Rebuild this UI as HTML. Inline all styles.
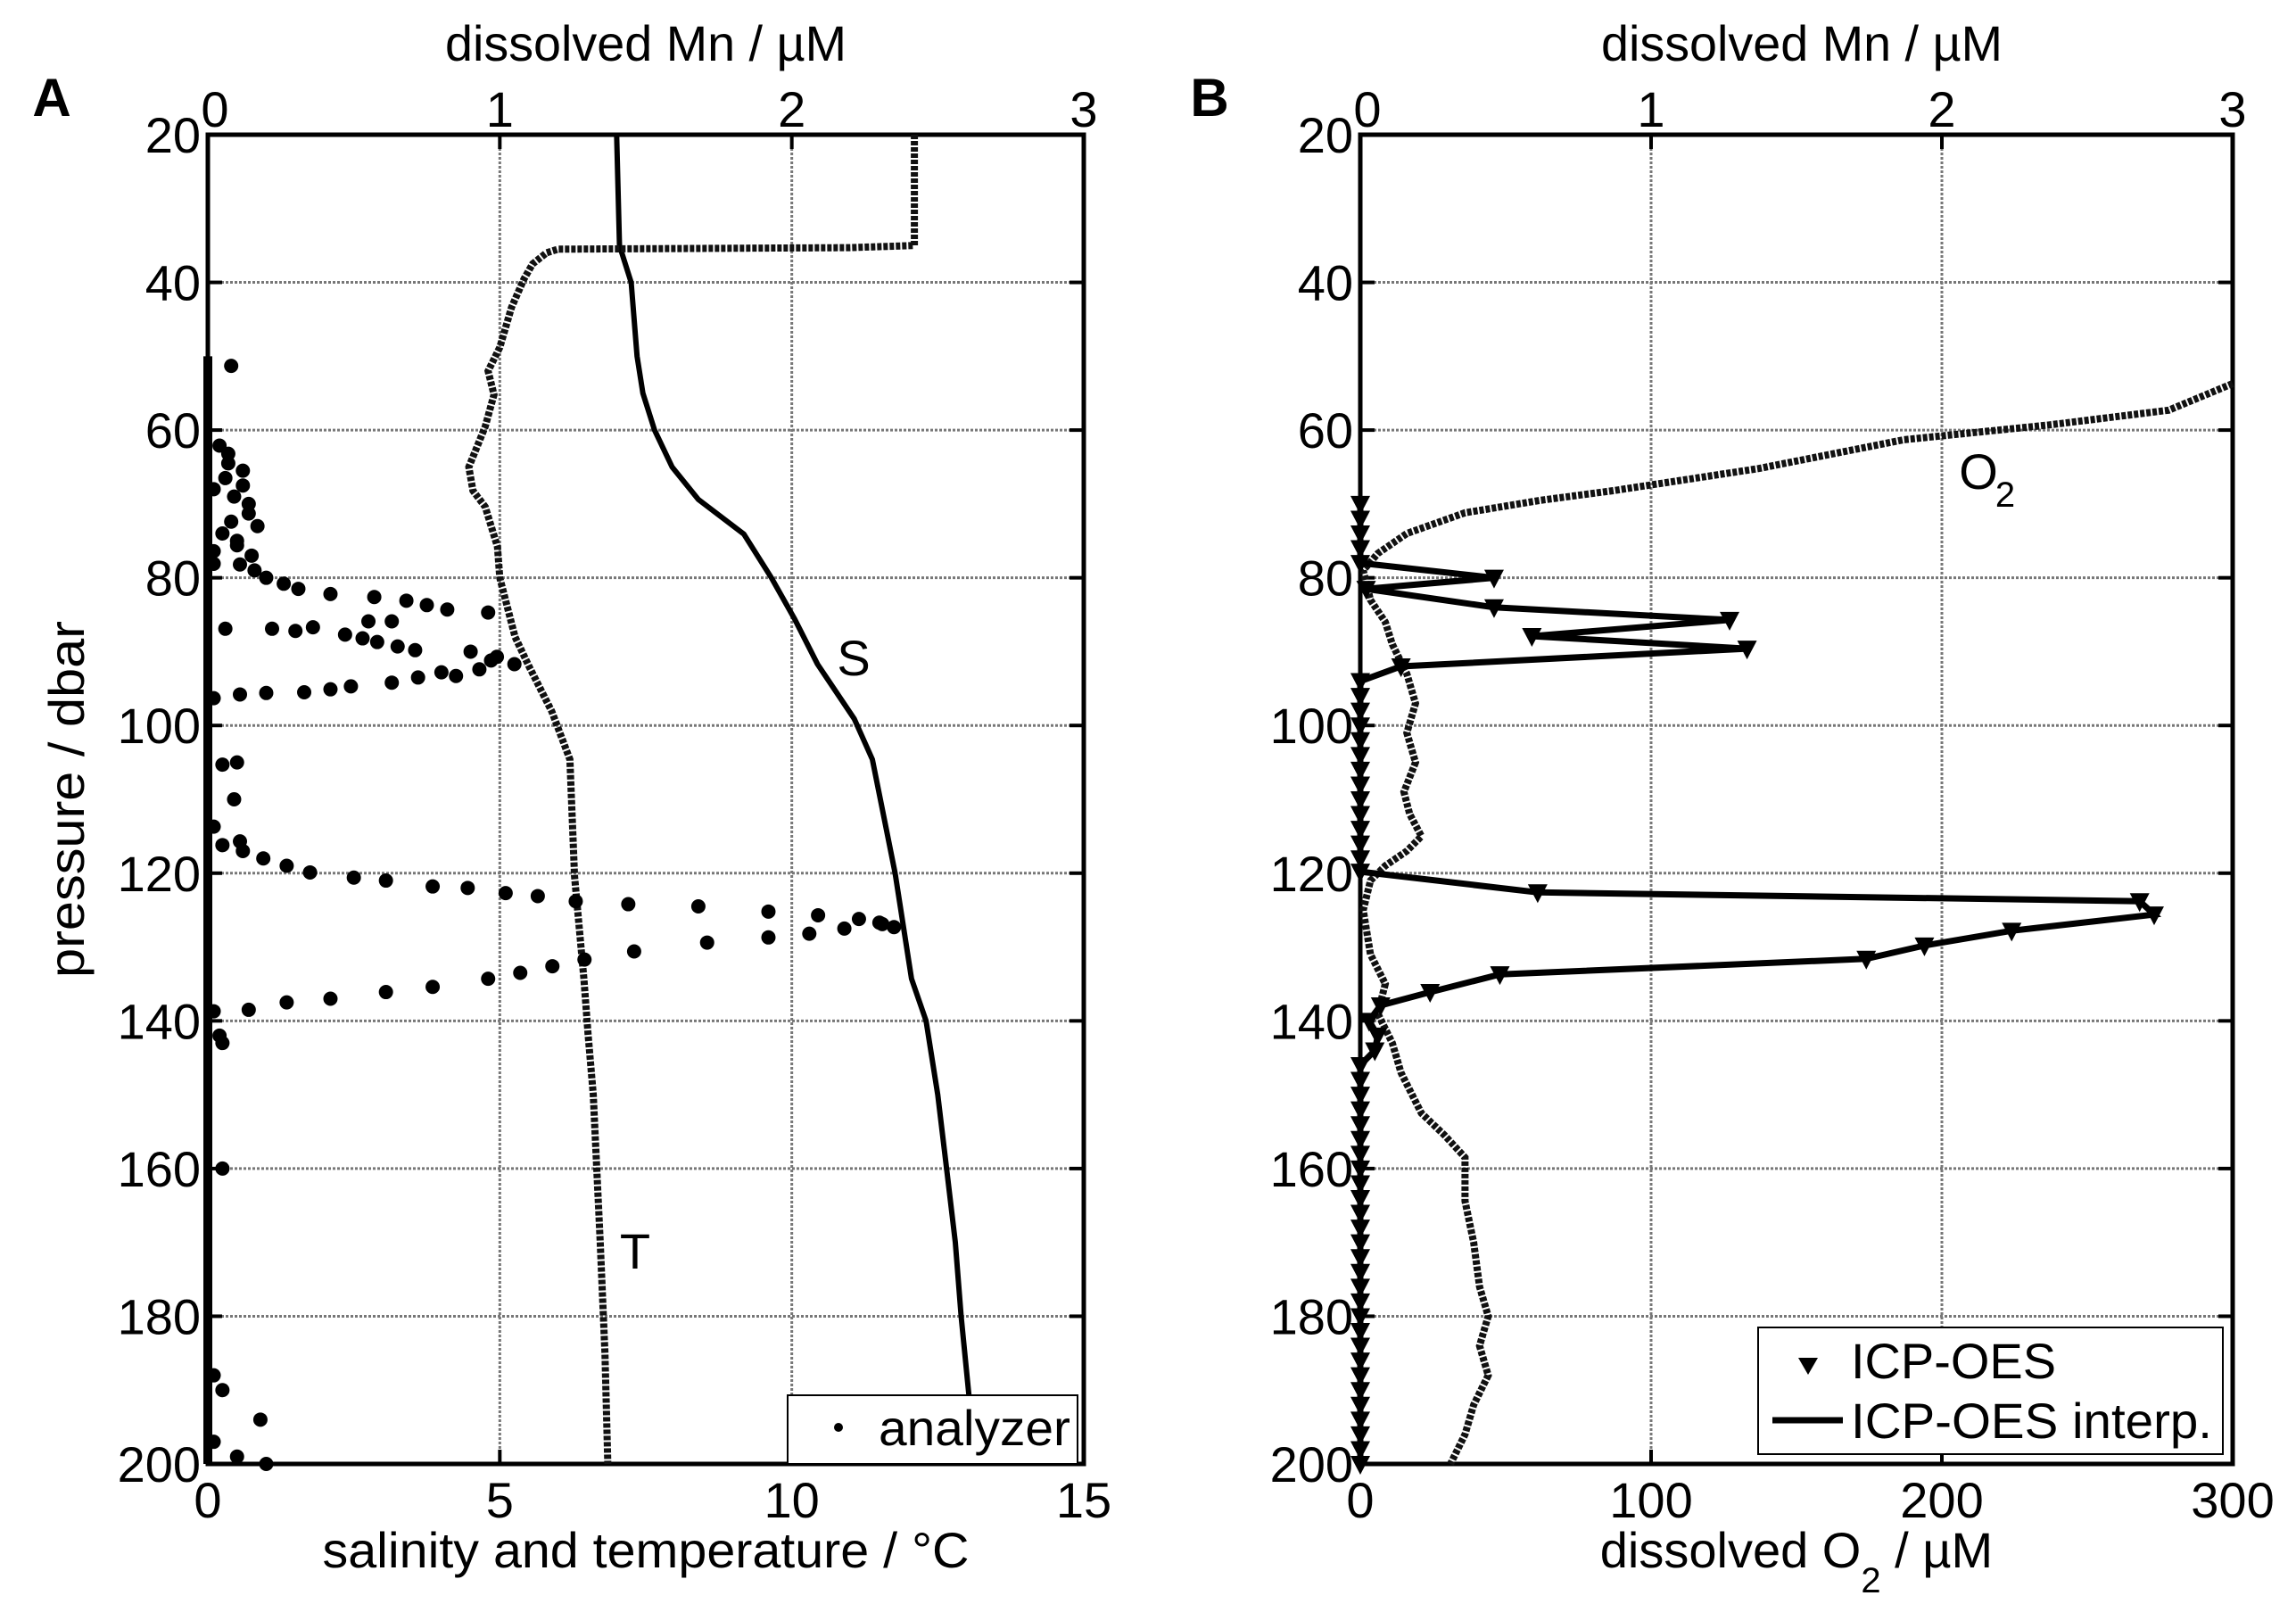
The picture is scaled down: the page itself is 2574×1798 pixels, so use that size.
<!DOCTYPE html>
<html><head><meta charset="utf-8"><style>
html,body{margin:0;padding:0;background:#fff;}
svg{display:block;font-family:"Liberation Sans",Arial,sans-serif;}
</style></head><body>
<svg id="fig" width="2574" height="1798" viewBox="0 0 2574 1798" xmlns="http://www.w3.org/2000/svg"></svg>
<script>
// ---------- data ----------
const pressureTicks = [20,40,60,80,100,120,140,160,180,200];
const mnTicks = [0,1,2,3];
const stTicks = [0,5,10,15];
const o2Ticks = [0,100,200,300];

// salinity (S) profile
const sP = [20,35,40,50,55,60,65,69.4,74.1,80,85.6,91.7,99.1,104.6,120,134.3,140,150,160,170,180,192];
const sV = [7.0,7.05,7.25,7.35,7.45,7.65,7.95,8.4,9.18,9.65,10.05,10.44,11.07,11.38,11.77,12.05,12.3,12.5,12.65,12.8,12.9,13.05];
// temperature (T) profile
const tP = [20,35,35.3,35.5,36,37.5,39.6,43.4,48.8,52,55.2,59.5,65,68.2,70.4,75.8,80,88,92,98.1,104.6,120.4,134.3,141.7,150,170,185,200];
const tV = [12.1,12.1,11,6.0,5.8,5.56,5.41,5.2,5.0,4.8,4.9,4.75,4.47,4.54,4.75,4.96,5.0,5.26,5.5,5.89,6.2,6.28,6.44,6.51,6.6,6.72,6.8,6.85];
// analyzer Mn dots
const anP = [51.3,62.1,63.2,64.5,65.5,66.5,67.5,68,69,70,71.3,72.4,73,74,75,75.6,76.4,77,78.1,78.2,79,80,80.8,81.5,82.2,82.6,83.1,83.7,84.3,84.7,
  85.9,85.9,86.9,86.9,86.7,87.2,87.7,88.2,88.7,89.3,89.8,
  96.3,95.8,95.6,95.5,95.1,94.7,94.2,93.5,93.3,92.4,91.7,90.7,90,91.2,92.8,
  105.3,105,110,113.7,115.7,116.2,117,118,119,119.9,120.6,121,121.8,122,122.7,123.1,123.8,124.2,124.5,125.2,125.7,126.2,126.7,127.3,
  138.7,138.5,137.5,137,136.1,135.4,134.3,133.5,132.6,131.7,130.6,129.4,128.7,128.2,127.5,126.9,
  142,143,160,188,190,194,197,199,200];
const anM = [0.08,0.04,0.07,0.07,0.12,0.06,0.12,0.02,0.09,0.14,0.14,0.08,0.17,0.05,0.1,0.1,0.02,0.15,0.02,0.11,0.16,0.2,0.26,0.31,0.42,0.57,0.68,0.75,0.82,0.96,
  0.55,0.63,0.06,0.22,0.36,0.3,0.47,0.53,0.58,0.65,0.71,
  0.02,0.11,0.2,0.33,0.42,0.49,0.63,0.72,0.85,0.93,1.05,0.99,0.9,0.97,0.8,
  0.05,0.1,0.09,0.02,0.11,0.05,0.12,0.19,0.27,0.35,0.5,0.61,0.77,0.89,1.02,1.13,1.26,1.44,1.68,1.92,2.09,2.23,2.3,2.35,
  0.02,0.14,0.27,0.42,0.61,0.77,0.96,1.07,1.18,1.29,1.46,1.71,1.92,2.06,2.18,2.31,
  0.04,0.05,0.05,0.02,0.05,0.18,0.02,0.1,0.2];
const anZeroStart = 50, anZeroEnd = 200;
// dissolved O2 profile
const oP = [53.7,57.3,59.3,61.3,65.2,68.2,69.5,71.2,74,76.7,79,83,86,89,93,97,101,105,109,112,115,117,119,121,125,131,135,139,143,147,152.5,155.5,158.5,164.4,170,176,180,184,188,192,196,200];
const oV = [300,278,237,187,137,87,62,36,16,6,1,3.5,8.6,11,16,19,16,19,15,17,21,16,8.6,3.5,1,3.5,8.6,6,11,14,21,29,36,36,39,41,44,41,44,39,36,31];
// ICP-OES Mn
const icpP = [70,72,74,76,78,80,81.5,84,85.7,87.9,89.6,92,94,96,98,100,102,104,106,108,110,112,114,116,118,119.8,122.6,123.8,125.6,127.8,129.8,131.6,133.7,136.1,137.9,140,142,144,146,148,150,152,154,156,158,160,162,164,166,168,170,172,174,176,178,180,182,184,186,188,190,192,194,196,198,200];
const icpM = [0,0,0,0,0,0.46,0.02,0.46,1.27,0.59,1.33,0.14,0,0,0,0,0,0,0,0,0,0,0,0,0,0,0.61,2.68,2.73,2.24,1.94,1.74,0.48,0.24,0.07,0.03,0.06,0.05,0,0,0,0,0,0,0,0,0,0,0,0,0,0,0,0,0,0,0,0,0,0,0,0,0,0,0,0];

// ---------- layout ----------
const NS = "http://www.w3.org/2000/svg";
const svg = document.getElementById('fig');
const Y0 = 151, Y1 = 1641;
const A = {x0:233, x1:1215}, B = {x0:1525, x1:2503};
const yP = p => Y0 + (p-20)/180*(Y1-Y0);
const xs = (ax, v, max) => ax.x0 + v/max*(ax.x1-ax.x0);
function el(tag, attrs, parent){ const e=document.createElementNS(NS,tag); for(const k in attrs) e.setAttribute(k,attrs[k]); (parent||svg).appendChild(e); return e; }
function txt(s, x, y, size, anchor, parent, extra){ const t=el('text',Object.assign({x:x,y:y,'font-size':size,'text-anchor':anchor||'middle',fill:'#000'},extra||{}),parent); t.textContent=s; return t; }

function axes(ax, name, botTicks, botMax){
  const g = el('g',{});
  
  
  pressureTicks.forEach(p=>{ if(p>20&&p<200){ const l=el('line',{x1:ax.x0,x2:ax.x1,y1:yP(p),y2:yP(p),stroke:'#777','stroke-width':3,'stroke-dasharray':'3,2'},g);
      }});
  mnTicks.forEach(m=>{ if(m>0&&m<3){ const l=el('line',{x1:xs(ax,m,3),x2:xs(ax,m,3),y1:Y0,y2:Y1,stroke:'#777','stroke-width':3,'stroke-dasharray':'3,2'},g);
      }});
  pressureTicks.forEach(p=>{ el('line',{x1:ax.x0,x2:ax.x0+16,y1:yP(p),y2:yP(p),stroke:'#000','stroke-width':4},g); el('line',{x1:ax.x1,x2:ax.x1-16,y1:yP(p),y2:yP(p),stroke:'#000','stroke-width':4},g);
    const t=txt(String(p), ax.x0-8, yP(p)+20, 56, 'end', g);   });
  mnTicks.forEach(m=>{ const x=xs(ax,m,3); el('line',{x1:x,x2:x,y1:Y0,y2:Y0+16,stroke:'#000','stroke-width':4},g);
    const t=txt(String(m), x+ (m===0?8:0), 142, 56, 'middle', g);   });
  botTicks.forEach(v=>{ const x=xs(ax,v,botMax); el('line',{x1:x,x2:x,y1:Y1,y2:Y1-16,stroke:'#000','stroke-width':4},g);
    const t=txt(String(v), x, 1701, 56, 'middle', g);   });
  const r = el('rect',{x:ax.x0,y:Y0,width:ax.x1-ax.x0,height:Y1-Y0,fill:'none',stroke:'#000','stroke-width':5},g);
   
  return g;
}
function path(pts, attrs, name){ const p=el('path',Object.assign({d:'M'+pts.map(q=>q[0].toFixed(1)+','+q[1].toFixed(1)).join('L'),fill:'none'},attrs));
    return p; }

// ---------- panel A ----------
axes(A,'panel-a',stTicks,15);
path(sP.map((p,i)=>[xs(A,sV[i],15),yP(p)]),{stroke:'#000','stroke-width':6,'stroke-linejoin':'round'},'salinity-line');
path(tP.map((p,i)=>[xs(A,tV[i],15),yP(p)]),{stroke:'#111','stroke-width':8,'stroke-dasharray':'5,2'},'temperature-line');
const zr = el('line',{x1:xs(A,0,3),x2:xs(A,0,3),y1:yP(anZeroStart),y2:yP(anZeroEnd),stroke:'#000','stroke-width':10});
 
const gAn = el('g',{});
 
anP.forEach((p,i)=>{ const c=el('circle',{cx:xs(A,anM[i],3),cy:yP(p),r:8,fill:'#000'},gAn);
    });
let t;
t=txt('S',957,757,56,'middle');  
t=txt('T',712,1422,56,'middle');  
t=txt('dissolved Mn / µM',724,68,56,'middle',svg,{textLength:450,lengthAdjust:'spacingAndGlyphs'});  
t=txt('salinity and temperature / °C',724,1757,56,'middle',svg,{textLength:725,lengthAdjust:'spacingAndGlyphs'});  
t=txt('pressure / dbar',0,0,56,'middle',svg,{transform:'translate(94,896) rotate(-90)',textLength:400,lengthAdjust:'spacingAndGlyphs'});  
t=txt('A',58,130,60,'middle',svg,{'font-weight':'bold'});  
const lgA = el('g',{});
 
el('rect',{x:883,y:1564,width:325,height:77,fill:'#fff',stroke:'#000','stroke-width':2},lgA);
el('circle',{cx:940,cy:1600,r:5,fill:'#000'},lgA);
txt('analyzer',985,1620,56,'start',lgA,{textLength:215,lengthAdjust:'spacingAndGlyphs'});

// ---------- panel B ----------
axes(B,'panel-b',o2Ticks,300);
path(oP.map((p,i)=>[xs(B,oV[i],300),yP(p)]),{stroke:'#111','stroke-width':8,'stroke-dasharray':'5,2'},'oxygen-line');
path(icpP.map((p,i)=>[xs(B,icpM[i],3),yP(p)]),{stroke:'#000','stroke-width':7,'stroke-linejoin':'miter'},'icp-interp-line');
const gIcp = el('g',{});
 
icpP.forEach((p,i)=>{ const x=xs(B,icpM[i],3), y=yP(p);
  const tri=el('polygon',{points:`${x-11},${y-9} ${x+11},${y-9} ${x},${y+12}`,fill:'#000'},gIcp);
    });
t=txt('O',2218,548,56,'middle');  
t=txt('2',2248,568,40,'middle');  
t=txt('dissolved Mn / µM',2020,68,56,'middle',svg,{textLength:450,lengthAdjust:'spacingAndGlyphs'});  
const xb = el('text',{x:2014,y:1757,'font-size':56,'text-anchor':'middle',fill:'#000'});
 
xb.innerHTML = 'dissolved O<tspan font-size="40" dy="28">2</tspan><tspan dy="-28"> / µM</tspan>';
t=txt('B',1356,130,60,'middle',svg,{'font-weight':'bold'});  
const lgB = el('g',{});
 
el('rect',{x:1971,y:1488,width:521,height:142,fill:'#fff',stroke:'#000','stroke-width':2},lgB);
el('polygon',{points:'2016,1522 2038,1522 2027,1541',fill:'#000'},lgB);
txt('ICP-OES',2075,1545,56,'start',lgB,{textLength:230,lengthAdjust:'spacingAndGlyphs'});
el('line',{x1:1987,x2:2066,y1:1592,y2:1592,stroke:'#000','stroke-width':7},lgB);
txt('ICP-OES interp.',2075,1612,56,'start',lgB,{textLength:405,lengthAdjust:'spacingAndGlyphs'});
</script>
</body></html>
